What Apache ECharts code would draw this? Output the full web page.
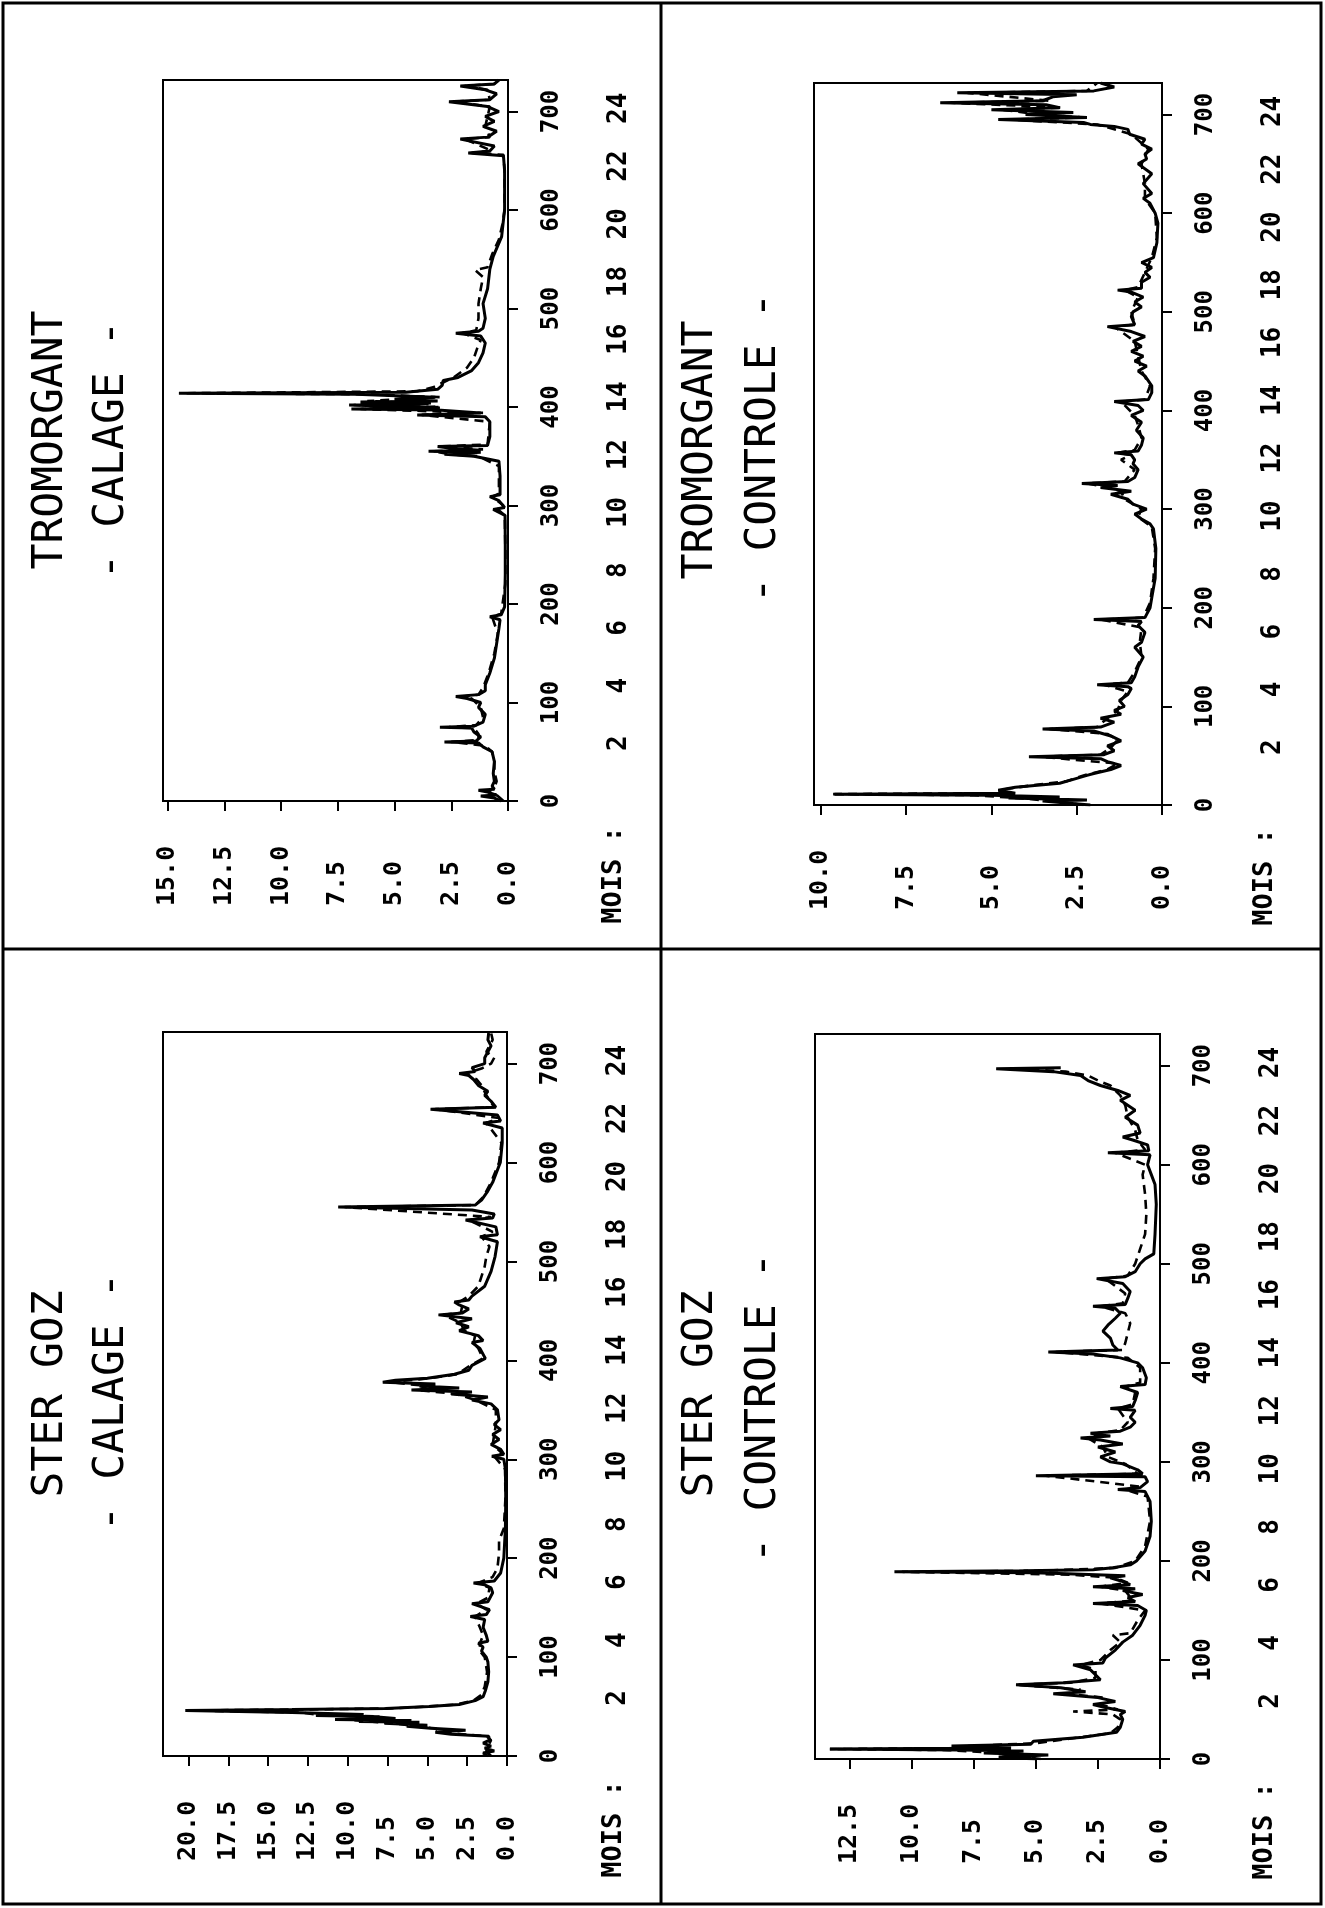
<!DOCTYPE html>
<html><head><meta charset="utf-8">
<script src="https://cdn.jsdelivr.net/npm/echarts@6/dist/echarts.min.js"></script>
<style>html,body{margin:0;padding:0;background:#fff}#c{width:1325px;height:1908px}</style>
</head><body><div id="c"></div>
<script>
// ---------- tick labels ----------
const dayTicks = [0,100,200,300,400,500,600,700];
const monthTicks = [2,4,6,8,10,12,14,16,18,20,22,24];
const ticksTromCalage = [0,2.5,5,7.5,10,12.5,15];
const ticksTromControle = [0,2.5,5,7.5,10];
const ticksSterCalage = [0,2.5,5,7.5,10,12.5,15,17.5,20];
const ticksSterControle = [0,2.5,5,7.5,10,12.5];

// ---------- series: [day, value] ----------
const tromCalageSolid = [[0,0.3],[3,0.6],[5,1.2],[6,0.5],[9,0.9],[11,1.3],[12,0.6],[15,0.7],[20,0.6],[28,0.65],[40,0.6],[50,0.7],[55,1.1],[59,1.3],[60,2.8],[61,1.4],[65,1.2],[70,1.5],[74,1.6],[75,3.0],[76,1.5],[80,1.1],[88,1.0],[95,1.3],[100,1.2],[104,1.8],[106,2.3],[108,1.3],[112,1.0],[118,1.0],[130,0.8],[145,0.6],[160,0.5],[175,0.4],[184,0.35],[187,0.8],[189,0.3],[197,0.15],[230,0.12],[260,0.12],[290,0.13],[296,0.65],[298,0.15],[305,0.4],[309,0.8],[311,0.35],[330,0.35],[345,0.4],[350,1.5],[352,2.8],[354,1.2],[355,3.5],[356,1.2],[358,2.5],[360,3.1],[361,0.9],[370,0.8],[385,0.8],[390,1.0],[392,4.0],[394,1.2],[397,3.1],[398,6.9],[399,3.0],[401,5.5],[402,7.0],[403,3.5],[405,6.5],[406,3.1],[408,5.0],[410,3.2],[413,6.7],[414,14.5],[415,4.5],[418,3.1],[422,2.9],[427,2.85],[430,2.2],[437,1.6],[445,1.3],[455,1.1],[465,1.0],[472,1.2],[475,2.3],[477,1.3],[480,1.1],[490,1.0],[505,1.1],[520,0.9],[530,0.85],[540,0.8],[553,0.65],[573,0.28],[590,0.2],[600,0.15],[620,0.15],[640,0.15],[655,0.2],[658,1.75],[660,0.8],[665,0.6],[672,2.1],[674,0.9],[680,0.5],[685,1.1],[690,0.6],[695,1.0],[700,0.4],[705,0.9],[710,2.6],[712,0.8],[718,0.5],[722,1.0],[726,2.1],[728,0.6],[732,0.4]];
const tromCalageDashed = [[0,0.2],[6,0.5],[10,0.9],[14,0.6],[20,0.5],[30,0.6],[40,0.6],[50,0.7],[56,1.0],[60,2.5],[62,1.3],[68,1.3],[74,1.5],[75,2.6],[77,1.4],[85,1.1],[95,1.2],[104,1.6],[106,2.0],[108,1.3],[115,1.1],[130,0.85],[150,0.6],[170,0.45],[187,0.7],[190,0.3],[220,0.12],[260,0.12],[290,0.14],[297,0.5],[300,0.2],[309,0.7],[312,0.4],[340,0.4],[350,1.3],[352,2.5],[355,3.3],[357,1.1],[360,2.9],[362,0.9],[385,0.8],[392,3.8],[394,1.1],[398,6.5],[400,3.0],[402,6.8],[404,3.3],[406,6.2],[410,3.0],[413,6.3],[414,14.2],[416,4.0],[420,3.3],[430,2.4],[440,1.8],[450,1.5],[460,1.35],[468,1.2],[475,2.0],[478,1.4],[490,1.3],[505,1.3],[520,1.2],[532,1.1],[539,1.45],[542,0.9],[555,0.7],[570,0.4],[585,0.25],[600,0.15],[640,0.15],[656,0.2],[658,1.6],[660,0.7],[672,1.9],[674,0.8],[685,1.0],[695,0.9],[705,0.8],[710,2.4],[712,0.8],[722,0.9],[726,1.9],[728,0.6],[732,0.5]];

const tromControleSolid = [[0,2.1],[2,2.1],[4,3.5],[5,2.2],[7,4.5],[8,3.0],[10,5.0],[11,9.6],[12,4.3],[15,4.8],[18,4.3],[22,3.0],[26,2.6],[30,2.2],[32,2.0],[36,1.5],[40,1.2],[44,1.6],[47,1.8],[49,3.9],[51,1.7],[55,1.4],[60,1.6],[65,1.2],[70,1.5],[75,2.0],[77,3.5],[79,1.8],[84,1.4],[88,1.8],[92,1.2],[96,1.4],[100,1.1],[106,1.25],[112,1.0],[118,0.9],[120,1.0],[122,1.9],[124,0.9],[130,0.8],[140,0.7],[150,0.55],[160,0.8],[165,0.6],[175,0.5],[182,0.7],[186,0.6],[188,2.0],[190,0.5],[200,0.35],[210,0.3],[230,0.2],[260,0.18],[280,0.25],[285,0.35],[290,0.6],[295,0.8],[300,0.45],[305,0.85],[310,1.0],[315,1.5],[318,0.9],[322,1.8],[324,1.3],[326,2.35],[328,1.0],[332,0.8],[340,0.7],[346,0.85],[350,0.8],[355,0.9],[357,1.4],[359,0.7],[365,0.6],[372,0.55],[380,0.75],[388,0.6],[395,0.9],[400,0.55],[405,0.7],[409,1.4],[411,0.4],[418,0.3],[425,0.3],[435,0.5],[440,0.7],[445,0.45],[450,0.8],[455,0.55],[460,0.9],[465,0.6],[470,0.85],[475,0.5],[480,0.9],[485,1.6],[487,0.8],[495,0.9],[500,0.85],[505,0.6],[510,0.8],[515,0.55],[520,0.9],[522,1.3],[524,0.6],[530,0.6],[535,0.35],[540,0.5],[545,0.3],[550,0.6],[555,0.25],[570,0.15],[590,0.12],[600,0.2],[610,0.35],[615,0.55],[620,0.3],[630,0.55],[640,0.3],[650,0.7],[655,0.45],[660,0.5],[665,0.3],[670,0.6],[675,0.5],[680,0.95],[685,1.0],[688,1.4],[690,2.1],[692,2.3],[695,4.8],[697,2.2],[700,4.0],[702,2.6],[705,5.0],[707,3.0],[710,3.4],[712,6.5],[714,3.5],[718,3.2],[720,2.5],[722,6.0],[724,2.0],[728,1.4],[732,1.8]];
const tromControleDashed = [[0,2.3],[4,3.2],[7,4.2],[10,5.5],[11,9.7],[12,4.5],[16,4.6],[20,3.8],[24,2.8],[30,2.3],[36,1.6],[42,1.3],[49,3.6],[51,1.8],[58,1.5],[66,1.3],[72,1.6],[77,3.3],[79,1.9],[88,1.6],[96,1.3],[106,1.2],[115,1.0],[122,1.7],[124,1.0],[135,0.8],[150,0.6],[165,0.65],[180,0.6],[188,1.8],[190,0.55],[205,0.35],[230,0.25],[260,0.2],[282,0.3],[292,0.7],[300,0.6],[310,1.1],[318,1.2],[322,1.6],[326,2.2],[328,1.1],[340,0.8],[350,1.2],[355,0.9],[357,1.3],[360,0.8],[372,0.6],[385,0.7],[395,0.8],[409,1.2],[411,0.5],[425,0.35],[440,0.6],[455,0.7],[470,0.8],[485,1.4],[487,0.8],[500,0.9],[515,0.7],[522,1.1],[525,0.7],[540,0.5],[555,0.3],[575,0.15],[600,0.2],[615,0.5],[630,0.5],[650,0.6],[665,0.4],[680,0.9],[690,1.9],[695,4.5],[697,2.3],[700,3.6],[705,4.7],[707,2.9],[712,6.2],[714,3.3],[722,5.7],[724,2.2],[732,1.9]];

const sterCalageSolid = [[0,1.2],[3,1.5],[5,0.8],[8,1.4],[10,1.0],[13,1.5],[16,1.1],[20,1.15],[22,3.5],[24,4.5],[26,2.6],[28,4.8],[30,6.3],[31,5.0],[33,7.7],[34,5.5],[35,9.3],[36,6.0],[37,10.8],[38,7.0],[40,8.5],[41,12.0],[42,9.0],[44,13.5],[46,20.2],[47,13.5],[48,7.6],[50,4.9],[52,3.0],[56,2.0],[60,1.5],[66,1.36],[75,1.2],[85,1.15],[95,1.2],[100,1.3],[106,1.6],[110,1.5],[114,1.8],[116,1.2],[122,1.3],[130,1.5],[138,1.4],[141,2.3],[143,1.3],[148,1.1],[154,2.2],[156,1.2],[165,0.9],[170,1.0],[173,1.4],[175,2.1],[177,0.8],[185,0.4],[200,0.2],[230,0.1],[260,0.08],[290,0.1],[300,0.2],[303,0.95],[305,0.2],[310,0.4],[315,1.0],[320,0.5],[325,0.9],[330,0.4],[335,0.8],[340,0.5],[350,0.6],[356,1.0],[360,2.2],[363,1.2],[366,3.5],[368,2.2],[370,6.0],[372,3.0],[374,5.5],[376,4.5],[378,7.8],[380,7.0],[382,5.0],[386,3.3],[390,2.4],[395,2.2],[402,1.36],[412,1.7],[418,2.2],[420,1.5],[425,1.8],[430,3.0],[434,2.4],[438,3.2],[442,2.2],[446,4.3],[448,2.8],[452,2.4],[456,3.0],[459,3.3],[461,2.4],[465,2.2],[475,1.4],[490,1.0],[505,0.75],[520,0.6],[525,1.7],[527,0.6],[535,0.7],[542,2.6],[544,0.9],[548,0.8],[552,2.2],[555,10.6],[557,2.0],[562,1.6],[570,1.25],[580,0.9],[600,0.42],[620,0.3],[635,0.3],[640,1.5],[642,0.4],[648,0.6],[654,4.8],[656,0.7],[662,1.0],[668,1.4],[672,1.2],[678,1.8],[684,2.1],[688,2.4],[690,3.0],[692,2.0],[696,2.2],[700,1.4],[706,1.4],[712,1.2],[718,1.0],[724,1.2],[731,1.15]];
const sterCalageDashed = [[0,1.0],[5,1.3],[10,1.2],[16,1.0],[20,1.3],[24,4.2],[28,4.5],[30,5.8],[33,7.0],[35,8.8],[37,10.2],[40,8.0],[41,11.5],[44,13.0],[46,19.8],[47,13.0],[48,7.4],[50,5.0],[52,3.2],[56,2.1],[62,1.6],[70,1.4],[85,1.25],[100,1.4],[106,1.7],[114,1.7],[122,1.5],[130,1.7],[141,2.0],[148,1.3],[154,1.9],[160,1.2],[170,1.1],[175,1.8],[181,0.9],[190,0.6],[205,0.5],[218,0.5],[230,0.2],[260,0.1],[290,0.12],[303,0.8],[306,0.3],[315,0.9],[325,0.8],[335,0.7],[350,0.7],[360,2.0],[366,3.2],[370,5.6],[374,5.0],[378,7.4],[382,4.8],[386,3.1],[395,2.3],[402,1.5],[412,1.8],[418,2.1],[425,2.0],[430,2.7],[438,2.9],[446,4.0],[448,2.9],[456,2.8],[459,3.0],[465,2.4],[475,1.8],[485,1.6],[495,1.4],[505,1.3],[515,1.1],[525,1.6],[530,0.9],[542,2.4],[545,1.0],[555,10.2],[557,2.0],[565,1.5],[580,1.0],[600,0.5],[620,0.35],[640,1.3],[645,0.5],[654,4.5],[656,0.8],[668,1.3],[678,1.6],[684,1.9],[690,2.6],[695,1.6],[700,1.0],[706,0.8],[712,1.3],[718,1.1],[724,0.9],[731,1.0]];

const sterControleSolid = [[0,5.0],[2,6.5],[4,4.5],[6,7.1],[8,5.5],[9,8.0],[10,13.3],[11,6.0],[13,8.4],[15,5.2],[18,5.1],[22,3.1],[27,1.75],[32,1.6],[40,1.5],[45,1.6],[48,1.4],[52,2.2],[55,2.7],[58,1.8],[62,2.5],[66,4.3],[68,3.0],[72,4.0],[75,5.8],[77,3.9],[80,2.4],[85,2.6],[90,2.8],[95,3.5],[97,2.3],[102,2.2],[110,1.8],[118,1.5],[125,1.1],[135,0.8],[145,0.6],[150,0.55],[155,0.9],[157,2.7],[159,1.0],[163,1.3],[166,0.7],[170,1.5],[172,1.0],[174,2.7],[176,1.2],[180,1.6],[183,2.0],[185,1.4],[187,3.75],[188,5.1],[189,10.7],[190,5.5],[191,2.7],[193,1.9],[196,1.2],[200,0.95],[210,0.6],[225,0.4],[240,0.35],[260,0.4],[270,0.6],[272,1.7],[274,0.8],[280,0.5],[285,0.6],[286,5.0],[288,0.7],[292,0.9],[298,1.5],[300,2.0],[305,2.4],[310,1.8],[315,2.5],[318,1.5],[322,2.4],[324,3.2],[326,2.0],[329,2.8],[331,1.6],[335,1.2],[340,1.0],[345,1.2],[352,1.0],[354,2.0],[356,1.1],[362,1.0],[370,0.9],[376,1.6],[378,0.6],[385,0.55],[395,0.7],[400,0.9],[405,1.6],[409,2.7],[411,4.5],[413,1.7],[418,1.9],[425,2.0],[432,2.3],[438,2.1],[445,1.8],[450,1.6],[455,1.8],[457,2.7],[459,1.4],[465,1.3],[472,1.2],[480,1.5],[485,2.55],[487,1.4],[492,1.0],[500,0.8],[505,0.6],[510,0.25],[530,0.2],[560,0.15],[580,0.2],[590,0.35],[600,0.5],[610,0.4],[612,2.1],[614,0.45],[620,0.5],[625,1.1],[628,1.5],[632,0.8],[640,0.9],[648,1.4],[655,1.0],[660,1.3],[665,1.6],[670,1.2],[675,1.7],[680,2.4],[685,2.9],[690,3.2],[694,4.3],[697,6.6],[698,4.0]];
const sterControleDashed = [[0,4.8],[3,6.0],[6,6.5],[9,8.5],[10,13.3],[11,8.0],[13,7.7],[16,5.0],[20,3.8],[26,2.0],[32,1.7],[40,1.6],[45,1.9],[48,3.5],[50,1.7],[55,2.4],[62,2.3],[66,3.8],[70,3.2],[75,5.8],[77,3.6],[82,2.6],[90,2.6],[95,3.2],[100,2.4],[110,2.0],[118,1.6],[125,1.9],[127,1.2],[140,0.9],[150,0.6],[157,2.4],[160,1.1],[170,1.4],[174,2.4],[178,1.3],[183,1.8],[186,3.5],[189,10.4],[190,4.8],[193,1.8],[200,1.0],[215,0.6],[240,0.4],[265,0.5],[272,1.4],[275,0.8],[286,4.6],[288,0.9],[298,1.4],[305,2.1],[315,2.3],[324,2.9],[329,2.5],[332,1.6],[340,1.3],[354,1.7],[358,1.1],[370,1.0],[376,1.4],[380,0.8],[395,0.8],[405,1.3],[411,4.2],[413,1.5],[420,1.4],[430,1.3],[440,1.2],[450,1.4],[457,2.4],[460,1.5],[470,1.4],[485,2.2],[488,1.3],[500,1.0],[515,0.8],[530,0.6],[550,0.55],[570,0.6],[590,0.7],[600,0.6],[612,1.8],[615,0.6],[625,0.9],[635,1.0],[648,1.3],[660,1.4],[670,1.6],[680,2.0],[685,2.5],[690,2.9],[694,3.8],[697,5.5]];

// ---------- layout ----------
const FONT = "'DejaVu Sans Mono','Liberation Mono',monospace";
const DAY_MAX = 732;
const DAYS_PER_MONTH_LABEL = 29.3;

const panels = [
  {name:'TROMORGANT', sub:'- CALAGE -', solid:tromCalageSolid, dashed:tromCalageDashed, ticks:ticksTromCalage, vmax:15.2,
   grid:{left:163, top:80, width:345, height:721}, t1:[51,440], t2:[112,450], mois:[614,875]},
  {name:'TROMORGANT', sub:'- CONTROLE -', solid:tromControleSolid, dashed:tromControleDashed, ticks:ticksTromControle, vmax:10.2,
   grid:{left:814, top:83, width:348, height:722}, t1:[701,450], t2:[764,448], mois:[1265,877]},
  {name:'STER GOZ', sub:'- CALAGE -', solid:sterCalageSolid, dashed:sterCalageDashed, ticks:ticksSterCalage, vmax:21.6,
   grid:{left:163, top:1032, width:344, height:724}, t1:[51,1394], t2:[112,1402], mois:[614,1829]},
  {name:'STER GOZ', sub:'- CONTROLE -', solid:sterControleSolid, dashed:sterControleDashed, ticks:ticksSterControle, vmax:13.9,
   grid:{left:815, top:1034, width:345, height:725}, t1:[701,1394], t2:[764,1408], mois:[1265,1831]}
];

const grids = [], xAxes = [], yAxes = [], series = [], graphics = [];
function vtext(str, pos, size, weight) {
  return {type:'text', x:pos[0], y:pos[1], rotation:Math.PI/2, silent:true,
    style:{text:str, fill:'#000', font:(weight||'normal')+' '+size+'px '+FONT, textAlign:'center', textVerticalAlign:'middle'}};
}
const blackLine = {color:'#000', width:2};
const labelStyle = {color:'#000', fontFamily:FONT, fontWeight:'bold'};

panels.forEach((p, i) => {
  grids.push(Object.assign({show:true, borderColor:'#000', borderWidth:2, backgroundColor:'transparent', containLabel:false}, p.grid));
  xAxes.push({
    gridIndex:i, type:'value', inverse:true, min:0, max:p.vmax, position:'bottom',
    splitLine:{show:false}, axisLine:{show:true, onZero:false, lineStyle:blackLine},
    axisTick:{show:true, customValues:p.ticks, length:10, inside:false, lineStyle:blackLine},
    axisLabel:Object.assign({show:true, customValues:p.ticks, rotate:90, align:'left', margin:105,
      formatter:v => v.toFixed(1), fontSize:25}, labelStyle)
  });
  yAxes.push({
    gridIndex:i, type:'value', min:0, max:DAY_MAX, position:'right',
    splitLine:{show:false}, axisLine:{show:true, onZero:false, lineStyle:blackLine},
    axisTick:{show:true, customValues:dayTicks, length:10, inside:false, lineStyle:blackLine},
    axisLabel:Object.assign({show:true, customValues:dayTicks, rotate:90, margin:32, fontSize:24}, labelStyle)
  });
  yAxes.push({
    gridIndex:i, type:'value', min:0, max:DAY_MAX/DAYS_PER_MONTH_LABEL, position:'right',
    splitLine:{show:false}, axisLine:{show:false}, axisTick:{show:false},
    axisLabel:Object.assign({show:true, customValues:monthTicks, rotate:90, margin:98, fontSize:26}, labelStyle)
  });
  const toXY = arr => arr.map(d => [d[1], d[0]]);
  series.push({type:'line', xAxisIndex:i, yAxisIndex:2*i, data:toXY(p.solid), symbol:'none', showSymbol:false,
    lineStyle:{color:'#000', width:3, type:'solid'}, silent:true, clip:true, z:3});
  series.push({type:'line', xAxisIndex:i, yAxisIndex:2*i, data:toXY(p.dashed), symbol:'none', showSymbol:false,
    lineStyle:{color:'#000', width:2.6, type:[9,6]}, silent:true, clip:true, z:2});
  graphics.push(vtext(p.name, p.t1, 43));
  graphics.push(vtext(p.sub, p.t2, 43));
  graphics.push(vtext('MOIS :', p.mois, 27, 'bold'));
});

// page frame and dividers
graphics.push({type:'rect', shape:{x:3, y:3, width:1318, height:1901}, style:{fill:'none', stroke:'#000', lineWidth:3}, silent:true});
graphics.push({type:'line', shape:{x1:661, y1:3, x2:661, y2:1904}, style:{stroke:'#000', lineWidth:3}, silent:true});
graphics.push({type:'line', shape:{x1:3, y1:949, x2:1321, y2:949}, style:{stroke:'#000', lineWidth:3}, silent:true});

const chart = echarts.init(document.getElementById('c'), null, {renderer:'canvas'});
chart.setOption({
  animation:false, backgroundColor:'#fff',
  grid:grids, xAxis:xAxes, yAxis:yAxes, series:series, graphic:graphics
});
</script></body></html>
